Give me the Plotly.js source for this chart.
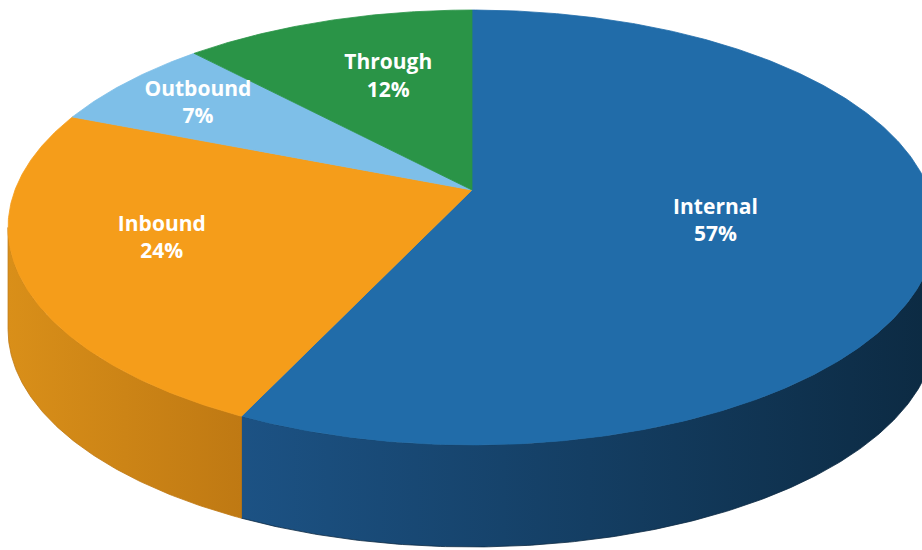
<!DOCTYPE html>
<html>
<head>
<meta charset="utf-8">
<script src="https://cdn.plot.ly/plotly-3.0.1.min.js"></script>
<style>html,body{margin:0;padding:0;background:#fff;}#chart{width:922px;height:550px;}</style>
</head>
<body>
<div id="chart"></div>
<script>
// ---- data ----
const categories = ['Internal', 'Inbound', 'Outbound', 'Through'];
const shares = [57, 24, 7, 12];
const pctLabels = ['57%', '24%', '7%', '12%'];

// ---- styles ----
const topColors = ['#216ca9', '#f59d1a', '#7ebfe8', '#2a9447'];
const sideLeft  = ['#1c5284', '#d98f19', '#6aa6cc', '#237a3b'];
const sideRight = ['#0c2a42', '#bf7913', '#4f86a8', '#1a5c2c'];
const labelR = [0.54, 0.69, 0.78, 0.62];
const labelTurn = [3.4, 2.6, 0, 2.6];

// ---- projection of a tilted disc (perspective) ----
const cx = 472, cy = 190, A = 457, B = 211, P = 0.1724, DEPTH = 102;
function proj(thetaDeg, r, level) {
  const t = thetaDeg * Math.PI / 180;
  const u = r * Math.sin(t), w = -r * Math.cos(t);
  const d = 1 - P * w;
  return [cx + A * u / d, cy + B * w / d + level * DEPTH];
}
function arc(a0, a1, r, level) {
  const xs = [], ys = [];
  const n = Math.max(2, Math.ceil(Math.abs(a1 - a0) / 0.5));
  for (let i = 0; i <= n; i++) {
    const p = proj(a0 + (a1 - a0) * i / n, r, level);
    xs.push(p[0]); ys.push(p[1]);
  }
  return [xs, ys];
}

const total = shares.reduce((a, b) => a + b, 0);
const starts = [], ends = [];
let acc = 0;
shares.forEach(s => { starts.push(acc / total * 360); acc += s; ends.push(acc / total * 360); });

// silhouette angles of the rim
const silR = Math.acos(-P) * 180 / Math.PI;   // right
const silL = 360 - silR;                        // left

const traces = [];
// sides (visible front rim)
shares.forEach((s, i) => {
  const a0 = Math.max(starts[i], silR), a1 = Math.min(ends[i], silL);
  if (a1 <= a0) return;
  const top = arc(a0, a1, 1, 0), bot = arc(a1, a0, 1, 1);
  const xs = top[0].concat(bot[0]), ys = top[1].concat(bot[1]);
  xs.push(xs[0]); ys.push(ys[0]);
  traces.push({
    type: 'scatter', mode: 'lines', x: xs, y: ys, fill: 'toself',
    fillcolor: sideLeft[i],
    fillgradient: {type: 'horizontal', colorscale: [[0, sideLeft[i]], [1, sideRight[i]]]},
    line: {width: 0.8, color: sideRight[i]}, hoverinfo: 'skip', showlegend: false
  });
});
// top faces
shares.forEach((s, i) => {
  const a = arc(starts[i], ends[i], 1, 0);
  const xs = [cx].concat(a[0], [cx]), ys = [cy].concat(a[1], [cy]);
  traces.push({
    type: 'scatter', mode: 'lines', x: xs, y: ys, fill: 'toself',
    fillcolor: topColors[i], line: {width: 0.8, color: topColors[i]},
    hoverinfo: 'skip', showlegend: false
  });
});
// labels
const lx = [], ly = [], lt = [];
shares.forEach((s, i) => {
  const mid = (starts[i] + ends[i]) / 2 + labelTurn[i];
  const p = proj(mid, labelR[i], 0);
  lx.push(p[0]); ly.push(p[1]);
  lt.push('<b>' + categories[i] + '</b><br><b>' + pctLabels[i] + '</b>');
});
traces.push({
  type: 'scatter', mode: 'text', x: lx, y: ly, text: lt,
  textposition: 'middle center',
  textfont: {family: 'Open Sans, sans-serif', size: 21, color: '#ffffff'},
  hoverinfo: 'skip', showlegend: false
});

const layout = {
  width: 922, height: 550,
  margin: {l: 0, r: 0, t: 0, b: 0},
  paper_bgcolor: '#ffffff', plot_bgcolor: '#ffffff',
  xaxis: {range: [0, 922], visible: false, fixedrange: true},
  yaxis: {range: [550, 0], visible: false, fixedrange: true},
  showlegend: false, hovermode: false
};
Plotly.newPlot('chart', traces, layout, {displayModeBar: false, staticPlot: true});
</script>
</body>
</html>
